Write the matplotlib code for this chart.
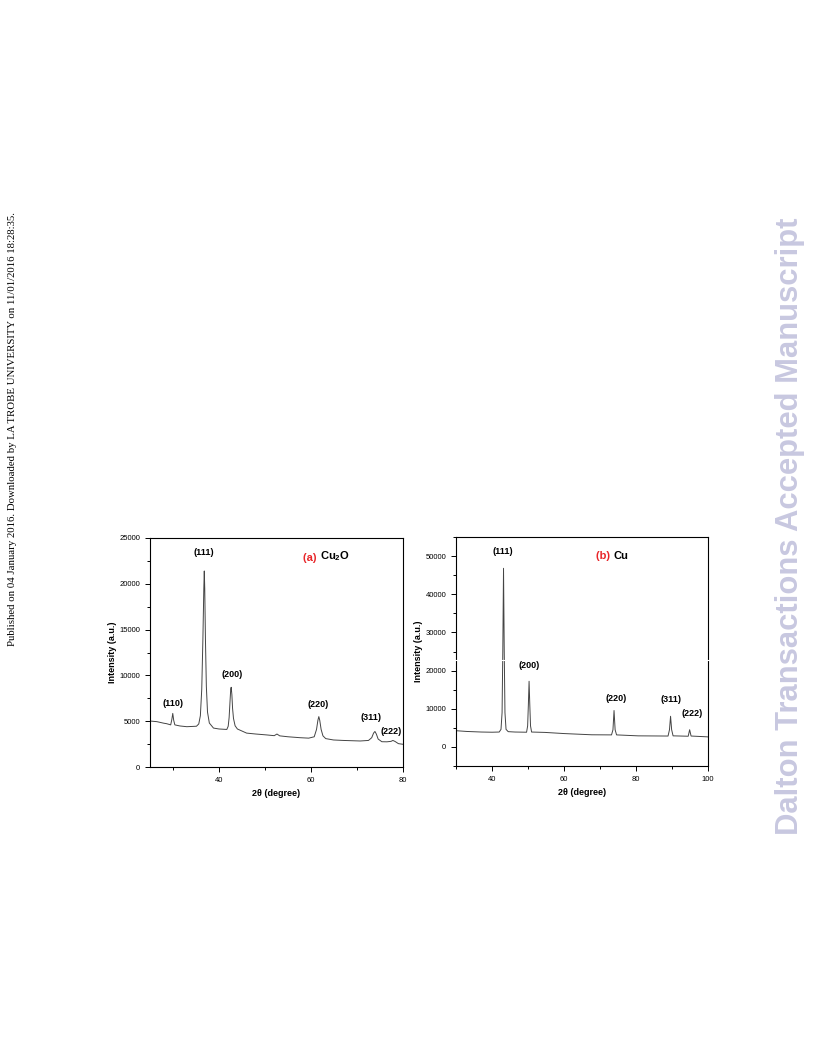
import matplotlib
matplotlib.use("Agg")
import matplotlib.pyplot as plt
from matplotlib.lines import Line2D
from matplotlib.ticker import MultipleLocator

plt.rcParams['font.family'] = ['Liberation Sans', 'DejaVu Sans']
plt.rcParams['mathtext.fontset'] = 'custom'
plt.rcParams['mathtext.rm'] = 'Liberation Sans'
plt.rcParams['mathtext.bf'] = 'Liberation Sans:bold'

# Panel (a) Cu2O pattern
theta_a = [25.0, 26.5, 28.0, 28.6, 29.5, 29.75, 29.95, 30.15, 30.4, 31.5, 33.0, 35.1,
           35.6, 35.95, 36.25, 36.5, 36.7, 36.8, 36.9, 37.05, 37.25, 37.5, 37.9, 38.8,
           40.0, 41.7, 42.0, 42.2, 42.4, 42.55, 42.65, 42.8, 42.95, 43.15, 43.5, 44.0,
           46.0, 48.0, 50.4, 52.0, 52.6, 53.2, 55.0, 57.6, 59.5, 60.7, 61.2, 61.5,
           61.7, 61.9, 62.2, 62.6, 63.2, 64.9, 67.0, 70.7, 72.5, 73.2, 73.6, 73.9,
           74.2, 74.6, 75.4, 76.5, 77.4, 77.8, 78.3, 79.0, 80.0]
int_a = [5020, 4950, 4780, 4730, 4600, 5200, 5850, 5100, 4600, 4480, 4400, 4450,
         4700, 5600, 8500, 14000, 19500, 21400, 19500, 14000, 8800, 6000, 4800, 4250,
         4150, 4100, 4450, 5400, 7200, 8500, 8700, 7900, 6400, 5300, 4500, 4150,
         3700, 3600, 3500, 3420, 3600, 3400, 3300, 3200, 3150, 3300, 4100, 5100,
         5500, 5100, 4100, 3400, 3100, 2950, 2900, 2840, 2900, 3200, 3700, 3880,
         3600, 3050, 2760, 2750, 2800, 2900, 2780, 2550, 2480]

# Panel (b) Cu pattern
theta_b = [30.0, 33.0, 37.1, 40.0, 42.0, 42.5, 42.8, 43.0, 43.2, 43.4, 43.6, 43.9,
           44.5, 46.4, 49.6, 49.9, 50.1, 50.3, 50.5, 50.7, 51.0, 54.7, 60.0, 67.7,
           73.2, 73.6, 73.9, 74.2, 74.6, 80.6, 88.9, 89.3, 89.6, 89.9, 90.3, 94.5,
           94.9, 95.3, 99.6, 100.0]
int_b = [4250, 4050, 3900, 3850, 3900, 4600, 9000, 25000, 46800, 25000, 9000, 4600,
         4000, 3900, 3850, 5500, 11000, 17200, 11000, 5500, 3900, 3800, 3500, 3180,
         3150, 4500, 9540, 4500, 3150, 2900, 2850, 4500, 8030, 4500, 2900, 2800,
         4500, 2850, 2650, 2620]

# peak labels: text, 2theta, intensity
labels_a = ["(110)", "(111)", "(200)", "(220)", "(311)", "(222)"]
lab_x_a = [29.9, 36.8, 42.9, 61.6, 73.0, 77.5]
lab_y_a = [6950, 23440, 10150, 6770, 5380, 3850]

labels_b = ["(111)", "(200)", "(220)", "(311)", "(222)"]
lab_x_b = [43.1, 50.2, 74.6, 89.6, 95.6]
lab_y_b = [51200, 21460, 12640, 12450, 8740]

fig = plt.figure(figsize=(8.16, 10.56), dpi=100)
ax_a = fig.add_axes([150/816, 1-767/1056, 253/816, 229/1056])
ax_b = fig.add_axes([456/816, 1-766/1056, 252/816, 229/1056])


def style(ax):
    for s in ax.spines.values():
        s.set_linewidth(0.8)
    ax.tick_params(which='both', direction='out', top=False, right=False,
                   labelsize=5.5, width=0.7)
    ax.tick_params(which='major', length=3.5)
    ax.tick_params(which='minor', length=2)
    ax.set_xlabel("2θ (degree)", fontsize=6.5, fontweight='bold', labelpad=4)
    ax.set_ylabel("Intensity (a.u.)", fontsize=6.5, fontweight='bold', labelpad=2)


ax_a.plot(theta_a, int_a, color='#444444', lw=0.7)
ax_a.set_xlim(25, 80)
ax_a.set_ylim(0, 25000)
ax_a.xaxis.set_major_locator(MultipleLocator(20))
ax_a.xaxis.set_minor_locator(MultipleLocator(10))
ax_a.yaxis.set_major_locator(MultipleLocator(5000))
ax_a.yaxis.set_minor_locator(MultipleLocator(2500))
style(ax_a)
for t, x, y in zip(labels_a, lab_x_a, lab_y_a):
    ax_a.text(x, y, t, fontsize=6.5, fontweight='bold', ha='center', va='center')
ta = ax_a.text(58.3, 22780, "(a) ", color='#e8262a', fontsize=8,
               fontweight='bold', va='center', ha='left')
ax_a.annotate(r"$\mathbf{Cu_2O}$", xy=(1, 0), xycoords=ta, fontsize=8,
              va='bottom', ha='left')

ax_b.plot(theta_b, int_b, color='#444444', lw=0.7)
ax_b.set_xlim(30, 100)
ax_b.set_ylim(-5000, 55000)
ax_b.xaxis.set_major_locator(MultipleLocator(20))
ax_b.xaxis.set_minor_locator(MultipleLocator(10))
ax_b.yaxis.set_major_locator(MultipleLocator(10000))
ax_b.yaxis.set_minor_locator(MultipleLocator(5000))
style(ax_b)
for t, x, y in zip(labels_b, lab_x_b, lab_y_b):
    ax_b.text(x, y, t, fontsize=6.5, fontweight='bold', ha='center', va='center')
tb = ax_b.text(68.9, 50000, "(b) ", color='#e8262a', fontsize=8,
               fontweight='bold', va='center', ha='left')
ax_b.annotate("Cu", xy=(1, 0), xycoords=tb, fontsize=8, fontweight='bold',
              va='bottom', ha='left')

# scan artefact: thin white line across panel (b)
fig.add_artist(Line2D([440/816, 712/816], [1-660/1056, 1-660/1056],
                      color='white', lw=0.8, zorder=10))

fig.text(13/816, 1-429/1056,
         "Published on 04 January 2016. Downloaded by LA TROBE UNIVERSITY on 11/01/2016 18:28:35.",
         family='Liberation Serif', fontsize=7.75, rotation=90, ha='center', va='center')
fig.text(790/816, 1-526/1056, "Dalton Transactions Accepted Manuscript",
         fontsize=22.3, fontweight='bold', color='#c8c8e0', rotation=90,
         ha='center', va='center')

fig.savefig("out.png", dpi=100)
